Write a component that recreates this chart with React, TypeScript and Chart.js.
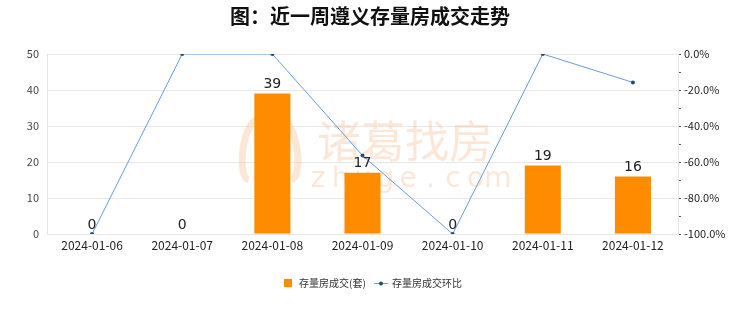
import React, { useEffect, useRef } from "react";
import { Chart, registerables } from "chart.js";

Chart.register(...registerables);

const categories = ["2024-01-06", "2024-01-07", "2024-01-08", "2024-01-09", "2024-01-10", "2024-01-11", "2024-01-12"];
const dealCounts = [0, 0, 39, 17, 0, 19, 16];
const momChange = [-100, 0, 0, -56.41, -100, 0, -15.79];
const titleText = "图：近一周遵义存量房成交走势";
const barLabel = "存量房成交(套)";
const lineLabel = "存量房成交环比";
const leftTicks = [0, 10, 20, 30, 40, 50];
const rightTickLabels = [0, -20, -40, -60, -80, -100];

const CJK = '"Noto Sans CJK JP", "Noto Sans CJK SC", sans-serif';

const overlayPlugin = {
  id: "overlay",
  beforeDatasetsDraw(chart: any) {
    const ctx = chart.ctx;
    ctx.save();
    ctx.fillStyle = "rgba(247, 196, 155, 0.4)";
    ctx.textAlign = "center";
    ctx.textBaseline = "middle";
    ctx.font = '44px "Noto Sans CJK SC", sans-serif';
    ctx.fillText("诸葛找房", 405, 141);
    ctx.font = '28px "DejaVu Sans", sans-serif';
    const wm = "zhuge.com";
    for (let i = 0; i < wm.length; i++) {
      ctx.fillText(wm[i], 318 + i * 22.5, 180);
    }
    ctx.strokeStyle = "rgba(247, 196, 155, 0.4)";
    ctx.lineWidth = 7;
    ctx.beginPath();
    ctx.ellipse(253, 150, 10, 30, 0.15, Math.PI * 0.5, Math.PI * 1.5);
    ctx.stroke();
    ctx.beginPath();
    ctx.ellipse(287, 150, 10, 30, -0.15, -Math.PI * 0.5, Math.PI * 0.5);
    ctx.stroke();
    ctx.beginPath();
    ctx.ellipse(270, 152, 6, 24, 0, 0, Math.PI * 2);
    ctx.stroke();
    ctx.restore();
  },
  afterDatasetsDraw(chart: any) {
    const ctx = chart.ctx;
    const meta = chart.getDatasetMeta(1);
    ctx.save();
    ctx.fillStyle = "#222";
    ctx.font = '14px "DejaVu Sans", sans-serif';
    ctx.textAlign = "center";
    ctx.textBaseline = "bottom";
    meta.data.forEach((el: any, i: number) => {
      ctx.fillText(String(dealCounts[i]), el.x, el.y - 2);
    });
    ctx.restore();
  },
  afterDraw(chart: any) {
    const ctx = chart.ctx;
    ctx.save();
    ctx.fillStyle = "#111";
    ctx.font = 'bold 20px "Noto Sans CJK SC", sans-serif';
    ctx.textAlign = "center";
    ctx.textBaseline = "middle";
    ctx.fillText(titleText, 370, 16);
    ctx.textAlign = "left";
    ctx.font = '10px "Noto Sans CJK SC", sans-serif';
    ctx.fillStyle = "#FF8C00";
    ctx.fillRect(284, 279, 8, 8);
    ctx.fillStyle = "#333";
    ctx.fillText(barLabel, 299, 283);
    ctx.strokeStyle = "#6A9BD6";
    ctx.lineWidth = 1;
    ctx.beginPath();
    ctx.moveTo(374, 283.5);
    ctx.lineTo(388, 283.5);
    ctx.stroke();
    ctx.fillStyle = "#2C4A6E";
    ctx.beginPath();
    ctx.arc(381, 283.5, 2, 0, Math.PI * 2);
    ctx.fill();
    ctx.fillStyle = "#333";
    ctx.fillText(lineLabel, 392, 283);
    ctx.restore();
  },
};

export default function App() {
  const ref = useRef<HTMLCanvasElement>(null);
  useEffect(() => {
    document.body.style.margin = "0";
    const chart = new Chart(ref.current as HTMLCanvasElement, {
      data: {
        labels: categories,
        datasets: [
          {
            type: "line",
            label: lineLabel,
            data: momChange,
            yAxisID: "y1",
            borderColor: "#6A9BD6",
            borderWidth: 1,
            pointRadius: 2,
            pointBackgroundColor: "#2C4A6E",
            pointBorderColor: "#2C4A6E",
            pointBorderWidth: 0,
            tension: 0,
            order: 0,
          } as any,
          {
            type: "bar",
            label: barLabel,
            data: dealCounts,
            yAxisID: "y",
            backgroundColor: "#FF8C00",
            categoryPercentage: 1,
            barPercentage: 0.4,
            order: 1,
          } as any,
        ],
      },
      options: {
        responsive: false,
        animation: false,
        layout: { padding: { top: 54, bottom: 58, left: 0, right: 0 } },
        plugins: { legend: { display: false }, title: { display: false }, tooltip: { enabled: false } },
        scales: {
          x: {
            grid: { display: false, drawTicks: false },
            border: { color: "#e6e6e6" },
            ticks: { color: "#222", font: { family: CJK, size: 12 }, padding: 4, maxRotation: 0 },
            afterFit: (s: any) => { s.height = 20; },
          },
          y: {
            position: "left",
            min: 0,
            max: 50,
            afterBuildTicks: (s: any) => { s.ticks = leftTicks.map((v) => ({ value: v })); },
            grid: { color: "#e8e8e8", drawTicks: false },
            border: { color: "#e6e6e6" },
            ticks: { color: "#444", font: { family: CJK, size: 11 }, padding: 8 },
            afterFit: (s: any) => { s.width = 47; },
          },
          y1: {
            position: "right",
            min: -100,
            max: 0,
            afterBuildTicks: (s: any) => {
              const t = [];
              for (let v = -100; v <= 0; v += 10) t.push({ value: v });
              s.ticks = t;
            },
            grid: { drawOnChartArea: false, color: "#555", tickLength: 3 },
            border: { color: "#e6e6e6" },
            ticks: {
              color: "#222",
              font: { family: CJK, size: 11 },
              padding: 3,
              autoSkip: false,
              callback: (v: any) => (rightTickLabels.includes(Number(v)) ? Number(v).toFixed(1) + "%" : ""),
            },
            afterFit: (s: any) => { s.width = 62; },
          },
        },
      },
      plugins: [overlayPlugin],
    });
    return () => chart.destroy();
  }, []);
  return <canvas ref={ref} width={740} height={312} style={{ display: "block" }} />;
}
